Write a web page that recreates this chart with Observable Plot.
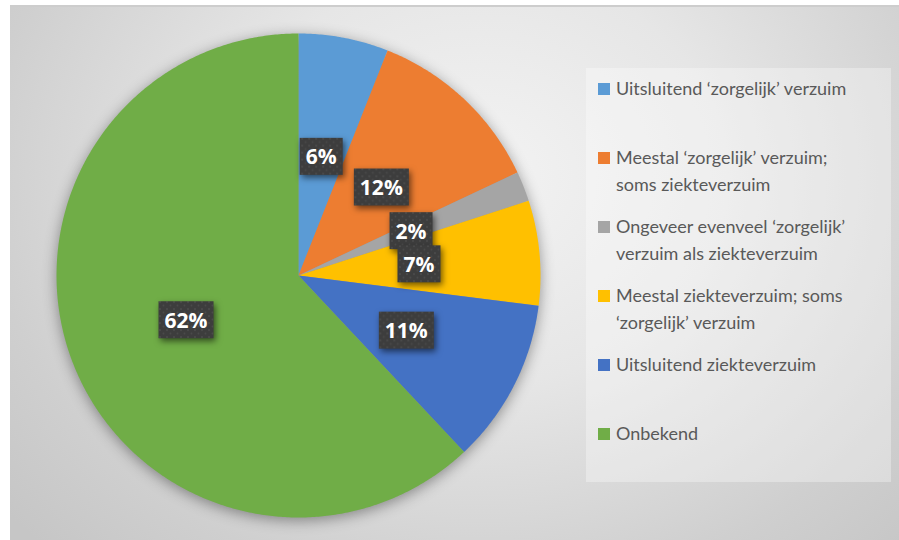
<!DOCTYPE html>
<html>
<head>
<meta charset="utf-8">
<script src="https://cdn.jsdelivr.net/npm/d3@7"></script>
<script src="https://cdn.jsdelivr.net/npm/@observablehq/plot@0.6"></script>
<style>
  html, body { margin: 0; padding: 0; background: #ffffff; }
  #wrap { position: relative; width: 899px; height: 540px; overflow: hidden; background: #fff; }
  #bg { position: absolute; left: 10px; top: 5px; width: 889px; height: 535px;
        background: radial-gradient(ellipse 620px 520px at 470px 170px, #f3f3f3 0%, #e6e6e6 40%, #cfcfcf 80%, #c6c6c6 100%);
        border-top: 2px solid #cdcdcd; box-sizing: border-box; }
  #chart { position: absolute; left: 0; top: 0; }
  #legend { position: absolute; left: 586px; top: 68px; width: 305px; height: 414px;
            background: rgba(255,255,255,0.32); }
  .item { position: absolute; left: 12px; font-family: Lato, "Open Sans", sans-serif; font-size: 18px;
          color: #595959; line-height: 26.5px; white-space: nowrap; }
  .sw { position: absolute; width: 12px; height: 12px; left: 0; top: 7.5px; }
  .txt { position: absolute; left: 18px; top: 0; }
</style>
</head>
<body>
<div id="wrap">
  <div id="bg"></div>
  <div id="chart"></div>
  <div id="legend"></div>
</div>
<script>
// ---- data ----
const categories = [
  "Uitsluitend ‘zorgelijk’ verzuim",
  "Meestal ‘zorgelijk’ verzuim; soms ziekteverzuim",
  "Ongeveer evenveel ‘zorgelijk’ verzuim als ziekteverzuim",
  "Meestal ziekteverzuim; soms ‘zorgelijk’ verzuim",
  "Uitsluitend ziekteverzuim",
  "Onbekend"
];
const values = [6, 12, 2, 7, 11, 62];
const colors = ["#5B9BD5", "#ED7D31", "#A5A5A5", "#FFC000", "#4472C4", "#70AD47"];
const legendLines = [
  ["Uitsluitend ‘zorgelijk’ verzuim"],
  ["Meestal ‘zorgelijk’ verzuim;", "soms ziekteverzuim"],
  ["Ongeveer evenveel ‘zorgelijk’", "verzuim als ziekteverzuim"],
  ["Meestal ziekteverzuim; soms", "‘zorgelijk’ verzuim"],
  ["Uitsluitend ziekteverzuim"],
  ["Onbekend"]
];

// ---- derived geometry (angles from values) ----
const total = d3.sum(values);
const arcs = d3.pie().sort(null).value(d => d)(values);
const slicePts = [];
arcs.forEach((a, i) => {
  const cat = categories[i];
  slicePts.push({cat, x: 0, y: 0});
  const n = Math.max(2, Math.ceil((a.endAngle - a.startAngle) / (Math.PI / 360)));
  for (let k = 0; k <= n; k++) {
    const t = a.startAngle + (a.endAngle - a.startAngle) * k / n;
    slicePts.push({cat, x: Math.sin(t), y: Math.cos(t)});
  }
});
const labels = arcs.map((a, i) => {
  const m = (a.startAngle + a.endAngle) / 2;
  return {cat: categories[i], x: 0.5 * Math.sin(m), y: 0.5 * Math.cos(m), text: Math.round(values[i] / total * 100) + "%"};
});

const plot = Plot.plot({
  width: 899,
  height: 540,
  margin: 0,
  style: {background: "transparent", overflow: "visible"},
  x: {domain: [-1, 1], range: [56, 540], axis: null},
  y: {domain: [-1, 1], range: [517, 33], axis: null},
  color: {domain: categories, range: colors},
  marks: [
    Plot.line(slicePts, {x: "x", y: "y", z: "cat", fill: "cat", stroke: null, curve: "linear-closed"}),
    Plot.text(labels, {x: "x", y: "y", text: "text", fill: "white", fontSize: 21, fontWeight: "bold",
      fontFamily: "'Open Sans', sans-serif", textAnchor: "middle", dy: 1})
  ]
});
document.getElementById("chart").appendChild(plot);

// pie shadow
const svg = d3.select(plot);
svg.select("g[aria-label='line']").style("filter", "drop-shadow(0px 3px 7px rgba(0,0,0,0.38))");

// pattern for label boxes
const defs = svg.insert("defs", ":first-child");
const pat = defs.append("pattern").attr("id", "dots").attr("patternUnits", "userSpaceOnUse")
  .attr("width", 7).attr("height", 7);
pat.append("rect").attr("width", 7).attr("height", 7).attr("fill", "#3d3d3d");
pat.append("circle").attr("cx", 2).attr("cy", 2).attr("r", 0.9).attr("fill", "#4e4e4e");
pat.append("circle").attr("cx", 5.5).attr("cy", 5.5).attr("r", 0.9).attr("fill", "#4a4a4a");

// boxes behind labels, sized from each text's bounding box (in the text's own transform)
svg.selectAll("g[aria-label='text'] text").each(function() {
  const b = this.getBBox();
  const r = document.createElementNS("http://www.w3.org/2000/svg", "rect");
  const tr = this.getAttribute("transform");
  if (tr) r.setAttribute("transform", tr);
  r.setAttribute("x", b.x - 6);
  r.setAttribute("y", b.y + b.height / 2 - 18.5);
  r.setAttribute("width", b.width + 12);
  r.setAttribute("height", 37);
  r.setAttribute("fill", "url(#dots)");
  r.style.filter = "drop-shadow(2px 3px 3px rgba(0,0,0,0.55))";
  this.parentNode.insertBefore(r, this);
});

// legend
const leg = d3.select("#legend");
legendLines.forEach((lines, i) => {
  const it = leg.append("div").attr("class", "item").style("top", (20.5 - 13.25 + 69 * i) + "px");
  it.append("div").attr("class", "sw").style("background", colors[i]);
  it.append("div").attr("class", "txt").html(lines.join("<br>"));
});
</script>
</body>
</html>
